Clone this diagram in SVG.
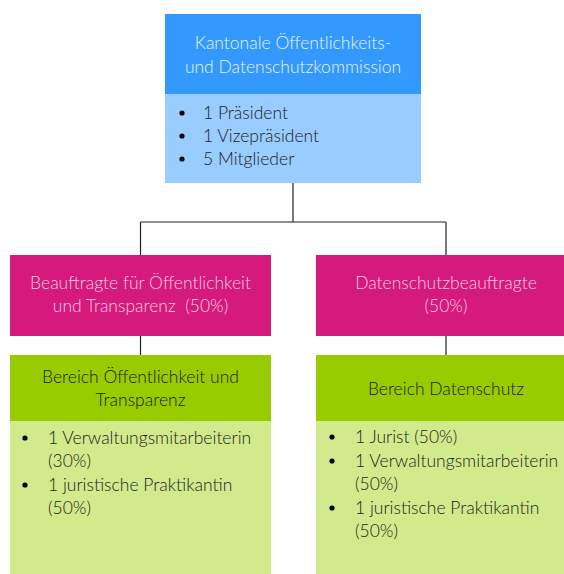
<svg xmlns="http://www.w3.org/2000/svg" width="564" height="574" viewBox="0 0 564 574">
<style>
text{font-family:Lato,"Liberation Sans",sans-serif;font-size:17.5px;font-weight:300}
.w{fill:#e8f3ff}
.p{fill:#f7cfe4}
.k{fill:#142000}
.b{fill:#222}
.c{text-anchor:middle}
.line{stroke:#222;stroke-width:1.2;fill:none}
</style>
<rect width="564" height="574" fill="#fff"/>
<g id="connectors">
<path class="line" d="M293 183V222M140.5 222H446M140.5 222V255M446 222V255M140.5 336V355M446 336V355"/>
</g>
<g id="kommission">
<rect x="165" y="14" width="256" height="80" fill="#3399ff"/>
<rect x="165" y="94" width="256" height="89" fill="#99ccff"/>
<text class="w c" x="293" y="49">Kantonale Öffentlichkeits-</text>
<text class="w c" x="293" y="73">und Datenschutzkommission</text>
<circle cx="182" cy="113" r="2.6" fill="#000"/>
<circle cx="182" cy="136" r="2.6" fill="#000"/>
<circle cx="182" cy="159" r="2.6" fill="#000"/>
<text class="b" x="203" y="119">1 Präsident</text>
<text class="b" x="203" y="142">1 Vizepräsident</text>
<text class="b" x="203" y="165">5 Mitglieder</text>
</g>
<g id="oeffentlichkeit">
<rect x="10" y="255" width="261" height="81" fill="#d6197c"/>
<text class="p c" x="140.5" y="289">Beauftragte für Öffentlichkeit</text>
<text class="p c" x="140.5" y="312" xml:space="preserve">und Transparenz  (50%)</text>
</g>
<g id="datenschutz">
<rect x="316" y="255" width="248" height="81" fill="#d6197c"/>
<text class="p c" x="446" y="289">Datenschutzbeauftragte</text>
<text class="p c" x="446" y="312">(50%)</text>
</g>
<g id="bereich-oeffentlichkeit">
<rect x="10" y="355" width="261" height="66" fill="#99cc00"/>
<rect x="10" y="421" width="261" height="153" fill="#d1ea8b"/>
<text class="k c" x="140.5" y="383">Bereich Öffentlichkeit und</text>
<text class="k c" x="140.5" y="406">Transparenz</text>
<circle cx="25" cy="438" r="2.6" fill="#000"/>
<circle cx="25" cy="485" r="2.6" fill="#000"/>
<text class="b" x="48" y="444">1 Verwaltungsmitarbeiterin</text>
<text class="b" x="48" y="467">(30%)</text>
<text class="b" x="48" y="491">1 juristische Praktikantin</text>
<text class="b" x="48" y="514">(50%)</text>
</g>
<g id="bereich-datenschutz">
<rect x="316" y="355" width="248" height="66" fill="#99cc00"/>
<rect x="316" y="421" width="248" height="153" fill="#d1ea8b"/>
<text class="k c" x="446" y="395">Bereich Datenschutz</text>
<circle cx="332" cy="437" r="2.6" fill="#000"/>
<circle cx="332" cy="461" r="2.6" fill="#000"/>
<circle cx="332" cy="508" r="2.6" fill="#000"/>
<text class="b" x="355" y="443">1 Jurist (50%)</text>
<text class="b" x="355" y="467">1 Verwaltungsmitarbeiterin</text>
<text class="b" x="355" y="490">(50%)</text>
<text class="b" x="355" y="514">1 juristische Praktikantin</text>
<text class="b" x="355" y="537">(50%)</text>
</g>
</svg>
